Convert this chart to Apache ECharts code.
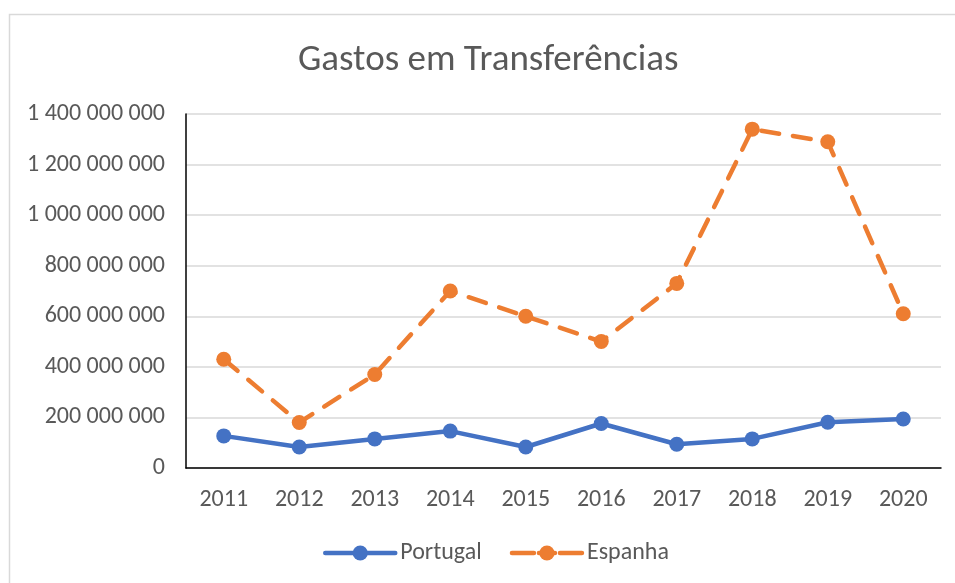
<!DOCTYPE html>
<html>
<head>
<meta charset="utf-8">
<script src="https://cdn.jsdelivr.net/npm/echarts@6/dist/echarts.min.js"></script>
<style>
  html, body { margin: 0; padding: 0; background: #fff; }
  #chart { width: 955px; height: 583px; }
</style>
</head>
<body>
<div id="chart"></div>
<script>
// anos no eixo x
const years = ['2011', '2012', '2013', '2014', '2015', '2016', '2017', '2018', '2019', '2020']
// gastos em transferências
const portugal = [127e6, 83e6, 115e6, 146e6, 83e6, 176e6, 94e6, 115e6, 181e6, 194e6]
const espanha = [430e6, 180e6, 370e6, 700e6, 600e6, 500e6, 730e6, 1340e6, 1290e6, 610e6]

const fontFamily = 'Carlito, "Open Sans", sans-serif'
const textColor = '#595959'

// 1400000000 -> "1 400 000 000"
let spaceThousands = value => String(value).replace(/\B(?=(\d{3})+(?!\d))/g, ' ')

const chart = echarts.init(document.getElementById('chart'))
chart.setOption({
  backgroundColor: '#fff',
  animation: false,
  graphic: [
    {
      type: 'rect',
      shape: { x: 9.5, y: 14.5, width: 960, height: 600 },
      style: { fill: 'none', stroke: '#d9d9d9', lineWidth: 1.5 },
      silent: true
    }
  ],
  title: {
    text: 'Gastos em Transferências',
    left: 293,
    top: 37,
    textStyle: {
      fontFamily: fontFamily,
      fontSize: 37,
      fontWeight: 'normal',
      color: textColor
    }
  },
  legend: {
    bottom: 13,
    left: 318,
    itemWidth: 70,
    itemHeight: 19,
    itemGap: 28,
    textStyle: {
      fontFamily: fontFamily,
      fontSize: 24,
      color: textColor
    },
    data: [
      { name: 'Portugal', lineStyle: { width: 4.5 } },
      { name: 'Espanha', lineStyle: { width: 4.5, type: [22, 5, 16, 5] } }
    ]
  },
  grid: {
    left: 186,
    right: 14,
    top: 114,
    bottom: 115,
    containLabel: false
  },
  xAxis: {
    type: 'category',
    data: years,
    boundaryGap: true,
    axisLine: { show: true, lineStyle: { color: '#000', width: 1.5 } },
    axisTick: { show: false },
    axisLabel: {
      color: textColor,
      fontFamily: fontFamily,
      fontSize: 24,
      margin: 20
    }
  },
  yAxis: {
    type: 'value',
    min: 0,
    max: 1400000000,
    interval: 200000000,
    axisLine: { show: true, lineStyle: { color: '#000', width: 1.5 } },
    axisTick: { show: false },
    splitLine: { lineStyle: { color: '#d9d9d9', width: 1.5 } },
    axisLabel: {
      color: textColor,
      fontFamily: fontFamily,
      fontSize: 24,
      margin: 21,
      formatter: spaceThousands
    }
  },
  series: [
    {
      name: 'Portugal',
      type: 'line',
      data: portugal,
      symbol: 'circle',
      symbolSize: 15,
      itemStyle: { color: '#4472C4' },
      lineStyle: { color: '#4472C4', width: 4.5, cap: 'round', join: 'round' }
    },
    {
      name: 'Espanha',
      type: 'line',
      data: espanha,
      symbol: 'circle',
      symbolSize: 15,
      itemStyle: { color: '#ED7D31' },
      lineStyle: { color: '#ED7D31', width: 4.5, type: [18, 14], cap: 'round', join: 'round' }
    }
  ]
})
</script>
</body>
</html>
